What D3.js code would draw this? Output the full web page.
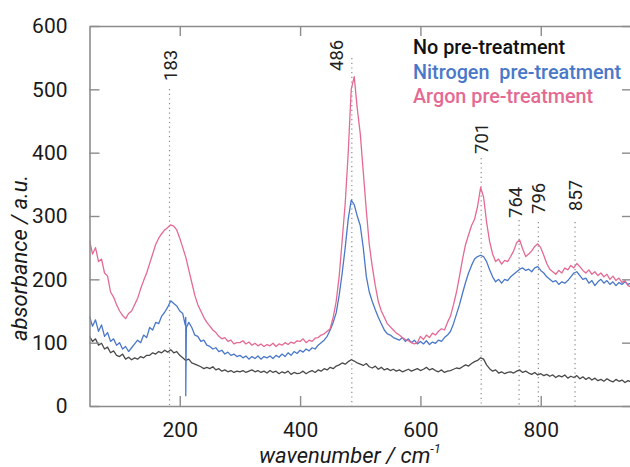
<!DOCTYPE html>
<html>
<head>
<meta charset="utf-8">
<script src="https://cdn.jsdelivr.net/npm/d3@7"></script>
<style>
  body { margin: 0; background: #fff; }
  svg { display: block; font-family: Roboto, "Noto Sans", sans-serif; }
</style>
</head>
<body>
<div id="chart"></div>
<script>
"use strict";

// wavenumber grid, cm-1 (step 5)
const wavenumbers = [
  50,55,60,65,70,75,80,85,90,95, 100,105,110,115,120,125,130,135,140,145,
  150,155,160,165,170,175,180,185,190,195, 200,205,210,215,220,225,230,235,240,245,
  250,255,260,265,270,275,280,285,290,295, 300,305,310,315,320,325,330,335,340,345,
  350,355,360,365,370,375,380,385,390,395, 400,405,410,415,420,425,430,435,440,445,
  450,455,460,465,470,475,480,485,490,495, 500,505,510,515,520,525,530,535,540,545,
  550,555,560,565,570,575,580,585,590,595, 600,605,610,615,620,625,630,635,640,645,
  650,655,660,665,670,675,680,685,690,695, 700,705,710,715,720,725,730,735,740,745,
  750,755,760,765,770,775,780,785,790,795, 800,805,810,815,820,825,830,835,840,845,
  850,855,860,865,870,875,880,885,890,895, 900,905,910,915,920,925,930,935,940,945,
  950
];

const noTreatment = [
  110,102,106,96,99,90,93,84,87,80, 78,82,74,77,73,76,74,78,76,80,
  80,84,82,86,84,88,85,89,84,86, 80,76,72,74,68,66,64,62,59,61,
  59,62,57,59,55,57,54,56,53,55, 54,56,53,55,57,54,56,53,55,52,
  56,53,55,51,54,52,55,50,53,51, 52,55,51,54,56,53,57,55,59,57,
  61,59,63,65,68,66,70,73,71,68, 66,64,67,62,60,63,58,61,57,59,
  56,58,55,57,54,56,58,55,57,59, 56,58,61,57,59,56,54,57,53,55,
  56,58,60,59,62,65,63,67,70,72, 76,74,65,59,55,57,52,54,51,53,
  54,52,55,57,53,55,52,50,53,49, 51,48,50,47,49,45,48,46,49,44,
  47,45,48,43,46,42,45,41,44,40, 42,39,43,40,38,42,39,41,37,40,
  38
];

const nitrogen = [
  142,126,136,118,128,110,116,102,106,96, 100,90,94,86,92,98,104,100,112,108,
  124,120,132,130,142,148,156,166,162,158, 150,146,140,132,124,112,110,102,104,96,
  94,90,92,86,88,82,85,80,82,78, 80,76,79,74,78,75,79,74,78,76,
  79,75,80,77,82,78,84,80,86,83, 88,85,90,87,92,90,96,100,104,110,
  120,132,147,175,210,250,295,325,318,300, 285,250,205,180,165,152,140,130,120,114,
  112,108,106,104,108,102,106,100,104,98, 102,98,103,97,101,99,104,102,108,112,
  118,130,145,160,178,195,210,222,232,236, 238,236,228,215,204,196,200,194,200,198,
  204,208,212,216,218,214,216,212,218,220, 214,210,204,200,196,198,192,196,194,198,
  204,210,212,206,200,202,194,198,190,196, 200,194,198,192,196,190,195,192,196,192,
  194
];

// single-channel dropout in the nitrogen trace near 210 cm-1
const nitrogenGlitch = [[209, 128], [210, 16], [211, 124]];

const argon = [
  262,240,250,228,232,210,205,180,172,160, 150,143,138,146,150,160,170,185,198,210,
  225,240,255,265,272,278,282,286,284,278, 265,250,235,215,195,175,160,150,140,132,
  126,120,116,110,106,108,102,104,98,100, 100,103,98,101,96,99,95,98,94,97,
  95,99,94,98,96,100,97,101,99,103, 102,106,100,104,102,107,108,112,114,118,
  122,140,165,205,262,320,400,500,520,470, 430,370,310,255,220,190,165,150,140,130,
  125,120,115,112,108,105,103,100,98,100, 110,105,112,108,115,112,118,122,120,132,
  142,160,180,205,232,255,270,285,295,315, 345,330,290,260,240,228,232,224,230,228,
  236,245,258,262,248,236,240,245,252,256, 250,238,225,216,212,208,214,210,218,215,
  222,218,225,220,214,210,215,208,212,206, 210,204,208,200,205,198,202,195,198,190,
  188
];

const peaks = [183, 486, 701, 764, 796, 857];
const legendLabels = ["No pre-treatment", "Nitrogen\u00a0 pre-treatment", "Argon pre-treatment"];
const xTicks = [200, 400, 600, 800];
const yTicks = [0, 100, 200, 300, 400, 500, 600];

const colors = ["#4a4a4a", "#4a78c9", "#e46a93"];

const width = 630, height = 467;
const plotLeft = 89.5, plotRight = 631, plotTop = 26, plotBottom = 406;

const x = d3.scaleLinear([50, 950], [plotLeft, plotRight]);
const y = d3.scaleLinear([0, 600], [plotBottom, plotTop]);

const svg = d3.select("#chart").append("svg")
  .attr("width", width)
  .attr("height", height);

// series
const toPoints = vals => wavenumbers.map((w, i) => [w, vals[i]]);
const nitrogenPts = toPoints(nitrogen).concat(nitrogenGlitch).sort((a, b) => a[0] - b[0]);
const series = [toPoints(noTreatment), nitrogenPts, toPoints(argon)];

const line = d3.line().x(d => x(d[0])).y(d => y(d[1]));

svg.append("defs").append("clipPath").attr("id", "clip")
  .append("rect").attr("x", plotLeft).attr("y", plotTop)
  .attr("width", plotRight - plotLeft).attr("height", plotBottom - plotTop);

// peak markers (dotted)
const peakTop = {183: 89, 486: 58, 701: 158, 764: 220, 796: 222, 857: 222};
const labelPos = {183: [7, 81], 486: [-9, 71], 701: [7, 154], 764: [3, 218], 796: [7, 214], 857: [7, 211]};

svg.append("g")
  .selectAll("line")
  .data(peaks)
  .join("line")
  .attr("x1", d => x(d)).attr("x2", d => x(d))
  .attr("y1", d => peakTop[d]).attr("y2", plotBottom)
  .attr("stroke", "#8a8a8a")
  .attr("stroke-width", 1.2)
  .attr("stroke-dasharray", "1.2,3.5");

svg.append("g")
  .attr("clip-path", "url(#clip)")
  .selectAll("path")
  .data(series)
  .join("path")
  .attr("fill", "none")
  .attr("stroke", (d, i) => colors[i])
  .attr("stroke-width", 1.3)
  .attr("stroke-linejoin", "round")
  .attr("d", line);

svg.append("g")
  .selectAll("text")
  .data(peaks)
  .join("text")
  .attr("transform", d => `translate(${x(d) + labelPos[d][0]},${labelPos[d][1]}) rotate(-90)`)
  .attr("font-size", 18.5)
  .attr("fill", "#222")
  .text(d => d);

// axes: frame with inward ticks on all sides
const axisColor = "#8c8c8c";
const styleAxis = g => {
  g.select(".domain").attr("stroke", axisColor).attr("stroke-width", 1.6);
  g.selectAll(".tick line").attr("stroke", axisColor).attr("stroke-width", 1.4);
  g.selectAll(".tick text").attr("fill", "#1a1a1a").attr("font-size", 21)
    .attr("font-family", "Roboto, sans-serif");
};

svg.append("g")
  .attr("transform", `translate(0,${plotBottom})`)
  .call(d3.axisBottom(x).tickValues(xTicks).tickSizeInner(-10).tickSizeOuter(0).tickPadding(16))
  .call(styleAxis);

svg.append("g")
  .attr("transform", `translate(0,${plotTop})`)
  .call(d3.axisTop(x).tickValues(xTicks).tickSizeInner(-10).tickSizeOuter(0).tickFormat(""))
  .call(styleAxis);

svg.append("g")
  .attr("transform", `translate(${plotLeft},0)`)
  .call(d3.axisLeft(y).tickValues(yTicks).tickSizeInner(-10).tickSizeOuter(0).tickPadding(22))
  .call(styleAxis);

svg.append("g")
  .attr("transform", `translate(${plotRight},0)`)
  .call(d3.axisRight(y).tickValues(yTicks).tickSizeInner(-9).tickSizeOuter(0).tickFormat(""))
  .call(styleAxis);

// axis titles
const xTitle = svg.append("text")
  .attr("x", 350).attr("y", 463)
  .attr("text-anchor", "middle")
  .attr("font-size", 22)
  .attr("font-style", "italic")
  .attr("fill", "#1a1a1a");
xTitle.append("tspan").text("wavenumber / cm");
xTitle.append("tspan").attr("font-size", 13).attr("dy", -10).text("-1");

svg.append("text")
  .attr("transform", `translate(27,258) rotate(-90)`)
  .attr("text-anchor", "middle")
  .attr("font-size", 22)
  .attr("font-style", "italic")
  .attr("fill", "#1a1a1a")
  .text("absorbance / a.u.");

// legend
svg.append("g")
  .selectAll("text")
  .data(legendLabels)
  .join("text")
  .attr("x", 413)
  .attr("y", (d, i) => 54 + i * 24.5)
  .attr("font-size", 19.8)
  .attr("font-weight", 500)
  .attr("fill", (d, i) => i === 0 ? "#111" : colors[i])
  .text(d => d);
</script>
</body>
</html>
